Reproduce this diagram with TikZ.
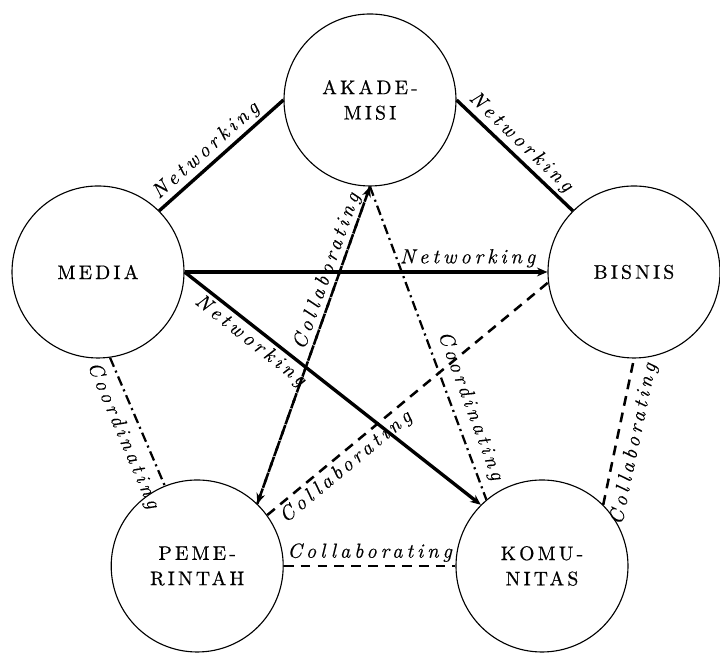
\documentclass[tikz,border=0pt]{standalone}
\usepackage{fontspec}
\setmainfont{lmroman10-regular.otf}[ItalicFont=lmroman10-italic.otf, BoldFont=lmroman10-bold.otf]
\newfontfamily\orgfamily{lmroman10-regular.otf}[FakeBold=0.6]
\newfontfamily\relfamily{lmroman10-italic.otf}[FakeBold=0.3]
\usepackage{tikz}
\usetikzlibrary{arrows.meta,positioning}
\newcommand{\orgfont}{\orgfamily\fontsize{14}{18}\selectfont\addfontfeature{LetterSpace=16}}
\newcommand{\relfont}{\relfamily\fontsize{14.5}{16}\selectfont\addfontfeature{LetterSpace=19}}

\begin{document}
\begin{tikzpicture}[
  org/.style={draw, circle, line width=0.8pt, minimum size=4.3cm, align=center,
              inner sep=0pt, font=\orgfont},
  net/.style={line width=2.4pt},
  collab/.style={line width=1.8pt, dash pattern=on 7pt off 5pt},
  coord/.style={line width=1.6pt, dash pattern=on 7pt off 3pt on 1.5pt off 3pt},
  rel/.style={sloped, font=\relfont, inner sep=2pt},
  tip/.style={-{Stealth[length=2.6mm, width=2.2mm]}}
]
\useasboundingbox (0,0) rectangle (18,16.35);
% the five actors
\node[org] (aka) at (9.25,13.85) {AKADE-\\MISI};
\node[org] (media) at (2.45,9.55) {MEDIA};
\node[org] (bisnis) at (15.85,9.55) {BISNIS};
\node[org] (pem) at (4.93,2.2) {PEME-\\RINTAH};
\node[org] (kom) at (13.55,2.2) {KOMU-\\NITAS};
% networking
\draw[net] (media.north east) -- node[rel, above, pos=0.45] {Networking} (aka.west);
\draw[net] (aka.east) -- node[rel, above, pos=0.47] {Networking} (bisnis.north west);
\draw[net, tip] (media.east) -- node[rel, above, pos=0.78] {Networking} (bisnis.west);
\draw[net, tip] (media.east) -- node[rel, below, pos=0.25] {Networking} (kom.north west);
% collaborating
\draw[collab, tip] (pem.46) -- node[rel, above, pos=0.72, inner sep=1pt] {Collaborating} (aka.south);
\draw[collab, tip] (aka.south) -- (pem.46);
\draw[collab] (pem.36) -- node[rel, below, pos=0.25, inner sep=2pt] {Collaborating} (bisnis.187);
\draw[collab] (pem.east) -- node[rel, above] {Collaborating} (kom.west);
\draw[collab] (kom.north east) -- node[rel, below, pos=0.44, inner sep=5pt] {Collaborating} (bisnis.south);
% coordinating
\draw[coord] (aka.south) -- node[rel, above, pos=0.72, inner sep=5pt] {Coordinating} (kom.130);
\draw[coord] (media.-82) -- node[rel, below, pos=0.55, inner sep=6pt] {Coordinating} (pem.112);
\end{tikzpicture}
\end{document}
